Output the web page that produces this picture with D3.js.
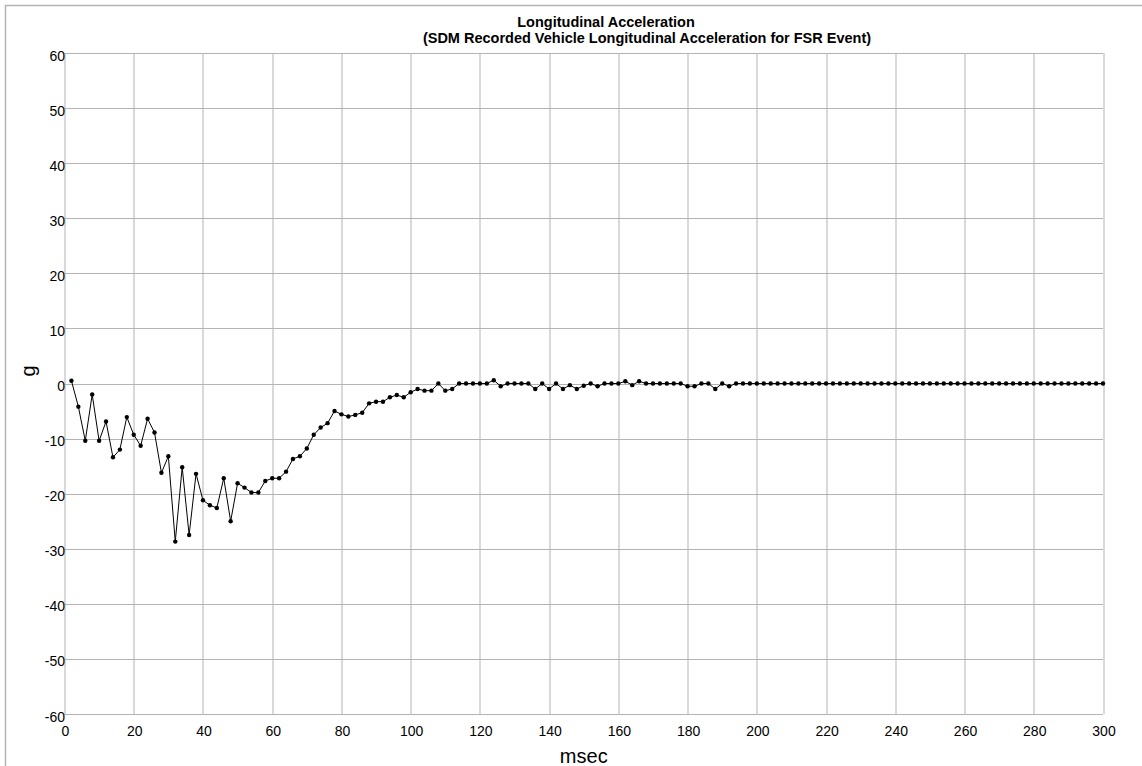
<!DOCTYPE html>
<html>

<head>
  <title>Longitudinal Acceleration</title>
  <meta charset="utf-8">
  <style>
    body {
      margin: 0;
      background-color: #fff;
    }

    svg {
      display: block;
      font-family: "Liberation Sans", Arial, sans-serif;
    }
  </style>
</head>

<body>
  <svg width="1142" height="766"></svg>
  <script src="https://d3js.org/d3.v7.min.js"></script>
  <script>
    // time stamps in msec (every 2 msec)
    var msec = d3.range(2, 301, 2);

    // longitudinal acceleration in g
    var accel = [
      0.5, -4.2, -10.4, -2.0, -10.4, -6.9, -13.4, -12.0, -6.1, -9.3,
      -11.3, -6.4, -8.9, -16.2, -13.2, -28.7, -15.2, -27.5, -16.4, -21.2,
      -22.1, -22.6, -17.2, -25.0, -18.1, -18.9, -19.8, -19.8, -17.7, -17.2,
      -17.2, -16.0, -13.7, -13.2, -11.8, -9.3, -8.0, -7.2, -5.0, -5.6,
      -6.0, -5.7, -5.3, -3.6, -3.3, -3.3, -2.5, -2.1, -2.5, -1.6,
      -1.0, -1.3, -1.3, 0, -1.3, -1.0, 0, 0, 0, 0,
      0, 0.6, -0.5, 0, 0, 0, 0, -1.0, 0, -1.0,
      0, -1.0, -0.3, -1.0, -0.4, 0, -0.5, 0, 0, 0,
      0.4, -0.3, 0.4, 0, 0, 0, 0, 0, 0, -0.5,
      -0.5, 0, 0, -1.0, 0, -0.5, 0, 0, 0, 0,
      0, 0, 0, 0, 0, 0, 0, 0, 0, 0,
      0, 0, 0, 0, 0, 0, 0, 0, 0, 0,
      0, 0, 0, 0, 0, 0, 0, 0, 0, 0,
      0, 0, 0, 0, 0, 0, 0, 0, 0, 0,
      0, 0, 0, 0, 0, 0, 0, 0, 0, 0
    ];

    var xTicks = d3.range(0, 301, 20);
    var yTicks = d3.range(-60, 61, 10);

    var titleLines = [
      "Longitudinal Acceleration",
      "(SDM Recorded Vehicle Longitudinal Acceleration for FSR Event)"
    ];

    var data = msec.map(function (t, i) { return { t: t, g: accel[i] }; });

    var svg = d3.select("svg"),
      margin = { top: 53, right: 39, bottom: 52, left: 64.5 },
      width = +svg.attr("width") - margin.left - margin.right,
      height = +svg.attr("height") - margin.top - margin.bottom;

    // outer chart frame (runs off the page on the right and bottom)
    svg.append("rect")
      .attr("x", 5.5)
      .attr("y", 5.5)
      .attr("width", 1200)
      .attr("height", 800)
      .attr("fill", "none")
      .attr("stroke", "#b3b3b3")
      .attr("stroke-width", 1.5);

    var g = svg.append("g").attr("transform", "translate(" + margin.left + "," + margin.top + ")");

    var x = d3.scaleLinear().domain([0, 300]).range([0, width]);
    var y = d3.scaleLinear().domain([-60, 60]).range([height, 0]);

    // grid
    g.append("g")
      .selectAll("line")
      .data(xTicks)
      .enter().append("line")
      .attr("x1", function (d) { return Math.round(x(d)) + 0.5; })
      .attr("x2", function (d) { return Math.round(x(d)) + 0.5; })
      .attr("y1", 0)
      .attr("y2", height)
      .attr("stroke", "#b3b3b3");

    g.append("g")
      .selectAll("line")
      .data(yTicks)
      .enter().append("line")
      .attr("x1", 0)
      .attr("x2", width)
      .attr("y1", function (d) { return Math.round(y(d)) + 0.5; })
      .attr("y2", function (d) { return Math.round(y(d)) + 0.5; })
      .attr("stroke", "#b3b3b3");

    // tick labels
    g.append("g")
      .attr("font-size", 14)
      .attr("text-anchor", "end")
      .selectAll("text")
      .data(yTicks)
      .enter().append("text")
      .attr("x", 0.5)
      .attr("y", function (d) { return y(d) + 7.5; })
      .text(function (d) { return d; });

    g.append("g")
      .attr("font-size", 14)
      .attr("text-anchor", "middle")
      .selectAll("text")
      .data(xTicks)
      .enter().append("text")
      .attr("x", function (d) { return x(d) + 1; })
      .attr("y", height + 22)
      .text(function (d) { return d; });

    // series
    var line = d3.line()
      .x(function (d) { return x(d.t); })
      .y(function (d) { return y(d.g); });

    g.append("path")
      .datum(data)
      .attr("fill", "none")
      .attr("stroke", "#000")
      .attr("stroke-width", 1)
      .attr("d", line);

    g.append("g")
      .selectAll("circle")
      .data(data)
      .enter().append("circle")
      .attr("cx", function (d) { return x(d.t); })
      .attr("cy", function (d) { return y(d.g); })
      .attr("r", 2.2)
      .attr("fill", "#000");

    // titles
    svg.append("g")
      .attr("font-size", 14.5)
      .attr("font-weight", "bold")
      .attr("text-anchor", "middle")
      .selectAll("text")
      .data(titleLines)
      .enter().append("text")
      .attr("x", function (d, i) { return i === 0 ? 606 : 647; })
      .attr("y", function (d, i) { return 27 + i * 16; })
      .text(function (d) { return d; });

    svg.append("text")
      .attr("x", margin.left + width / 2)
      .attr("y", 763)
      .attr("font-size", 20)
      .attr("text-anchor", "middle")
      .text("msec");

    svg.append("text")
      .attr("transform", "translate(35,371)rotate(-90)")
      .attr("font-size", 20)
      .attr("text-anchor", "middle")
      .text("g");
  </script>
</body>

</html>
